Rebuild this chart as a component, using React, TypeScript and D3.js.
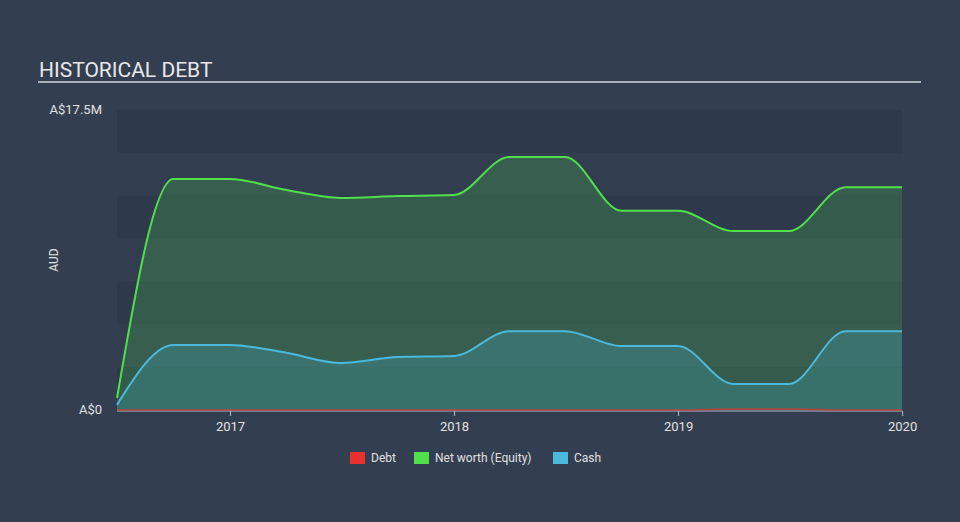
import React from "react";
import * as d3 from "d3";

const dates = [
  "2016-06-30", "2016-09-30", "2016-12-31", "2017-03-31", "2017-06-30", "2017-09-30", "2017-12-31",
  "2018-03-31", "2018-06-30", "2018-09-30", "2018-12-31", "2019-03-31", "2019-06-30", "2019-09-30", "2019-12-31",
];
const equity = [0.7, 13.48, 13.48, 12.85, 12.37, 12.48, 12.54, 14.76, 14.76, 11.62, 11.62, 10.44, 10.44, 13.0, 13.0];
const cash = [0.3, 3.79, 3.79, 3.35, 2.74, 3.09, 3.15, 4.6, 4.6, 3.73, 3.73, 1.52, 1.52, 4.6, 4.6];
const debt = [0, 0, 0, 0, 0, 0, 0, 0, 0, 0, 0, 0.06, 0.06, 0, 0];
const yTickLabels = ["A$0", "A$17.5M"];
const legendItems = [
  { label: "Debt", color: "#e8302d" },
  { label: "Net worth (Equity)", color: "#4fe04b" },
  { label: "Cash", color: "#4ab9dc" },
];

const W = 960, H = 522;
const L = 117, R = 902, T = 110, B = 410;
const FONT = "Roboto, 'Open Sans', sans-serif";

export default function App() {
  const parse = d3.timeParse("%Y-%m-%d");
  const ds = dates.map((d) => parse(d) as Date);
  const x = d3.scaleTime().domain([ds[0], ds[ds.length - 1]]).range([L, R]);
  const y = d3.scaleLinear().domain([0, 17.5]).range([B, T]);
  const years = d3.timeYear.range(new Date(2017, 0, 1), new Date(2020, 0, 2));

  const area = (vals: number[]) =>
    d3.area<number>().x((_, i) => x(ds[i])).y0(y(0)).y1((v) => y(v)).curve(d3.curveMonotoneX)(vals) || "";
  const line = (vals: number[]) =>
    d3.line<number>().x((_, i) => x(ds[i])).y((v) => y(v)).curve(d3.curveMonotoneX)(vals) || "";

  const bands = d3.range(7);
  const bandH = (B - T) / 7;

  const legendX = [350, 414, 553];

  return (
    <svg width={W} height={H} style={{ position: "absolute", left: 0, top: 0, background: "#333f50" }}>
      <rect x={0} y={0} width={W} height={H} fill="#333f50" />
      <text x={39} y={77} fill="#e8e8e8" fontSize={21} fontFamily={FONT}>HISTORICAL DEBT</text>
      <rect x={38} y={81} width={883} height={2} fill="#a9b0b9" />

      {bands.map((i) => (
        <rect key={i} x={L} y={T + i * bandH} width={R - L} height={bandH}
          fill={i % 2 === 0 ? "#2e3a4b" : "#323e50"} />
      ))}

      <path d={area(equity)} fill="#4fe04b" fillOpacity={0.2} />
      <path d={area(cash)} fill="#4ab9dc" fillOpacity={0.22} />
      <path d={line(equity)} fill="none" stroke="#4fe04b" strokeWidth={2} />
      <path d={line(cash)} fill="none" stroke="#4ab9dc" strokeWidth={2} />
      <line x1={L} x2={R} y1={B + 1} y2={B + 1} stroke="#b4bac2" strokeWidth={1} />
      <path d={line(debt)} fill="none" stroke="#e8302d" strokeOpacity={0.7} strokeWidth={1.5} />

      <text x={102} y={y(17.5) + 4} fill="#e0e0e0" fontSize={13} fontFamily={FONT} textAnchor="end">{yTickLabels[1]}</text>
      <text x={102} y={y(0) + 4} fill="#e0e0e0" fontSize={13} fontFamily={FONT} textAnchor="end">{yTickLabels[0]}</text>
      <text transform={`translate(58,260) rotate(-90)`} fill="#e0e0e0" fontSize={12} fontFamily={FONT} textAnchor="middle">AUD</text>

      {years.map((d) => (
        <g key={d.getFullYear()}>
          <line x1={x(d)} x2={x(d)} y1={B + 1} y2={B + 6} stroke="#b4bac2" strokeWidth={1} />
          <text x={x(d)} y={B + 21} fill="#e0e0e0" fontSize={13} fontFamily={FONT} textAnchor="middle">{d.getFullYear()}</text>
        </g>
      ))}

      {legendItems.map((it, i) => (
        <g key={it.label}>
          <rect x={legendX[i]} y={452} width={15} height={12} fill={it.color} />
          <text x={legendX[i] + 21} y={462} fill="#e0e0e0" fontSize={12} fontFamily={FONT}>{it.label}</text>
        </g>
      ))}
    </svg>
  );
}
